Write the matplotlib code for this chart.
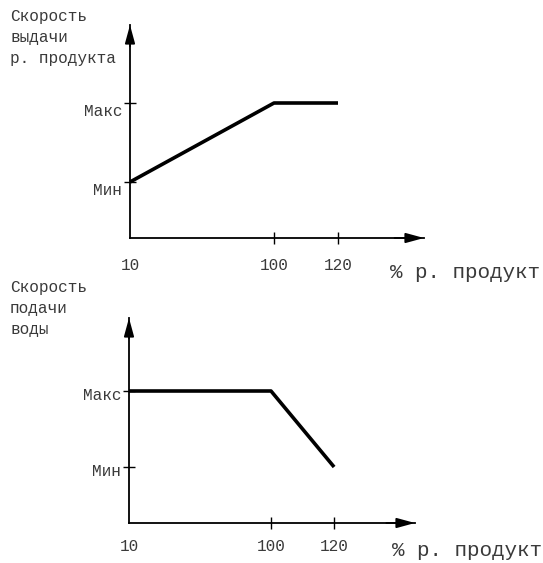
import numpy as np
import matplotlib
matplotlib.use("Agg")
import matplotlib.pyplot as plt
from matplotlib.transforms import ScaledTranslation

# ---- data ----
x_ticks = [10, 100, 120]
x_tick_labels = ["10", "100", "120"]
y_levels = [1, 2]
y_level_labels = ["Мин", "Макс"]

top_x = [10, 100, 120]
top_y = [1, 2, 2]          # Скорость выдачи р. продукта
bot_x = [10, 100, 120]
bot_y = [2, 2, 1]          # Скорость подачи воды

top_ylabel = "Скорость\nвыдачи\nр. продукта"
bot_ylabel = "Скорость\nподачи\nводы"
xlabel = "% р. продукт"

plt.rcParams['font.family'] = ['Liberation Mono', 'DejaVu Sans Mono']

W, H = 543, 563
DPI = 100
fig = plt.figure(figsize=(W / DPI, H / DPI), dpi=DPI)
TXT = '#3a3a3a'
FS = 11.5


def fwd(x):
    x = np.asarray(x, dtype=float)
    return np.where(x <= 100, (x - 10) * 1.6, 144 + (x - 100) * 3.2)


def inv(u):
    u = np.asarray(u, dtype=float)
    return np.where(u <= 144, u / 1.6 + 10, (u - 144) / 3.2 + 100)


def px_rect(left, top, right, bottom):
    return [left / W, 1 - bottom / H, (right - left) / W, (bottom - top) / H]


def make_panel(rect, xs, ys, xmax, ylim, ylabel, ylabel_pos, xlabel_pos, xpad, ydrop):
    ax = fig.add_axes(rect)
    ax.set_xscale('function', functions=(fwd, inv))
    ax.set_xlim(10, xmax)
    ax.set_ylim(*ylim)
    for s in ['top', 'right']:
        ax.spines[s].set_visible(False)
    for s in ['left', 'bottom']:
        ax.spines[s].set_linewidth(1.3)
        ax.spines[s].set_color('black')
    ax.plot(xs, ys, color='black', lw=2.6, solid_capstyle='butt', clip_on=False)
    # arrows
    ax.annotate('', xy=(1, 0), xytext=(0.9, 0), xycoords='axes fraction',
                arrowprops=dict(arrowstyle='-|>,head_length=1.1,head_width=0.3',
                                color='black', lw=1.3, shrinkA=0, shrinkB=0))
    ax.annotate('', xy=(0, 1), xytext=(0, 0.9), xycoords='axes fraction',
                arrowprops=dict(arrowstyle='-|>,head_length=1.1,head_width=0.3',
                                color='black', lw=1.3, shrinkA=0, shrinkB=0))
    ax.set_xticks(x_ticks)
    ax.set_xticklabels(x_tick_labels)
    ax.xaxis.set_minor_locator(matplotlib.ticker.NullLocator())
    ax.set_yticks(y_levels)
    ax.set_yticklabels(y_level_labels)
    ax.tick_params(axis='x', direction='inout', length=9, width=1, pad=xpad,
                   labelsize=FS, labelcolor=TXT)
    ax.tick_params(axis='y', direction='inout', length=9, width=1, pad=1,
                   labelsize=FS, labelcolor=TXT)
    ax.xaxis.get_major_ticks()[0].tick1line.set_visible(False)
    off = ScaledTranslation(0, -ydrop / DPI, fig.dpi_scale_trans)
    for lab in ax.get_yticklabels():
        lab.set_transform(lab.get_transform() + off)
    fig.text(ylabel_pos[0] / W, 1 - ylabel_pos[1] / H, ylabel, ha='left', va='top',
             fontsize=FS, color=TXT, linespacing=1.5)
    fig.text(xlabel_pos[0] / W, 1 - xlabel_pos[1] / H, xlabel, ha='left', va='center',
             fontsize=15, color=TXT)
    return ax


# top panel: origin (130,238), arrow tips x=424, y=25
make_panel(px_rect(130, 25, 424, 238), top_x, top_y, float(inv(294)),
           (1 - 56 / 79, 1 + 157 / 79), top_ylabel, (10, 9), (390, 272), 10, 7)
# bottom panel: origin (129,523), arrow tips x=415, y=318
make_panel(px_rect(129, 318, 415, 523), bot_x, bot_y, float(inv(286 * 144 / 142)),
           (1 - 56 / 76, 1 + 149 / 76), bot_ylabel, (10, 280), (392, 551), 7, 3)

fig.savefig('out.png', dpi=DPI)
